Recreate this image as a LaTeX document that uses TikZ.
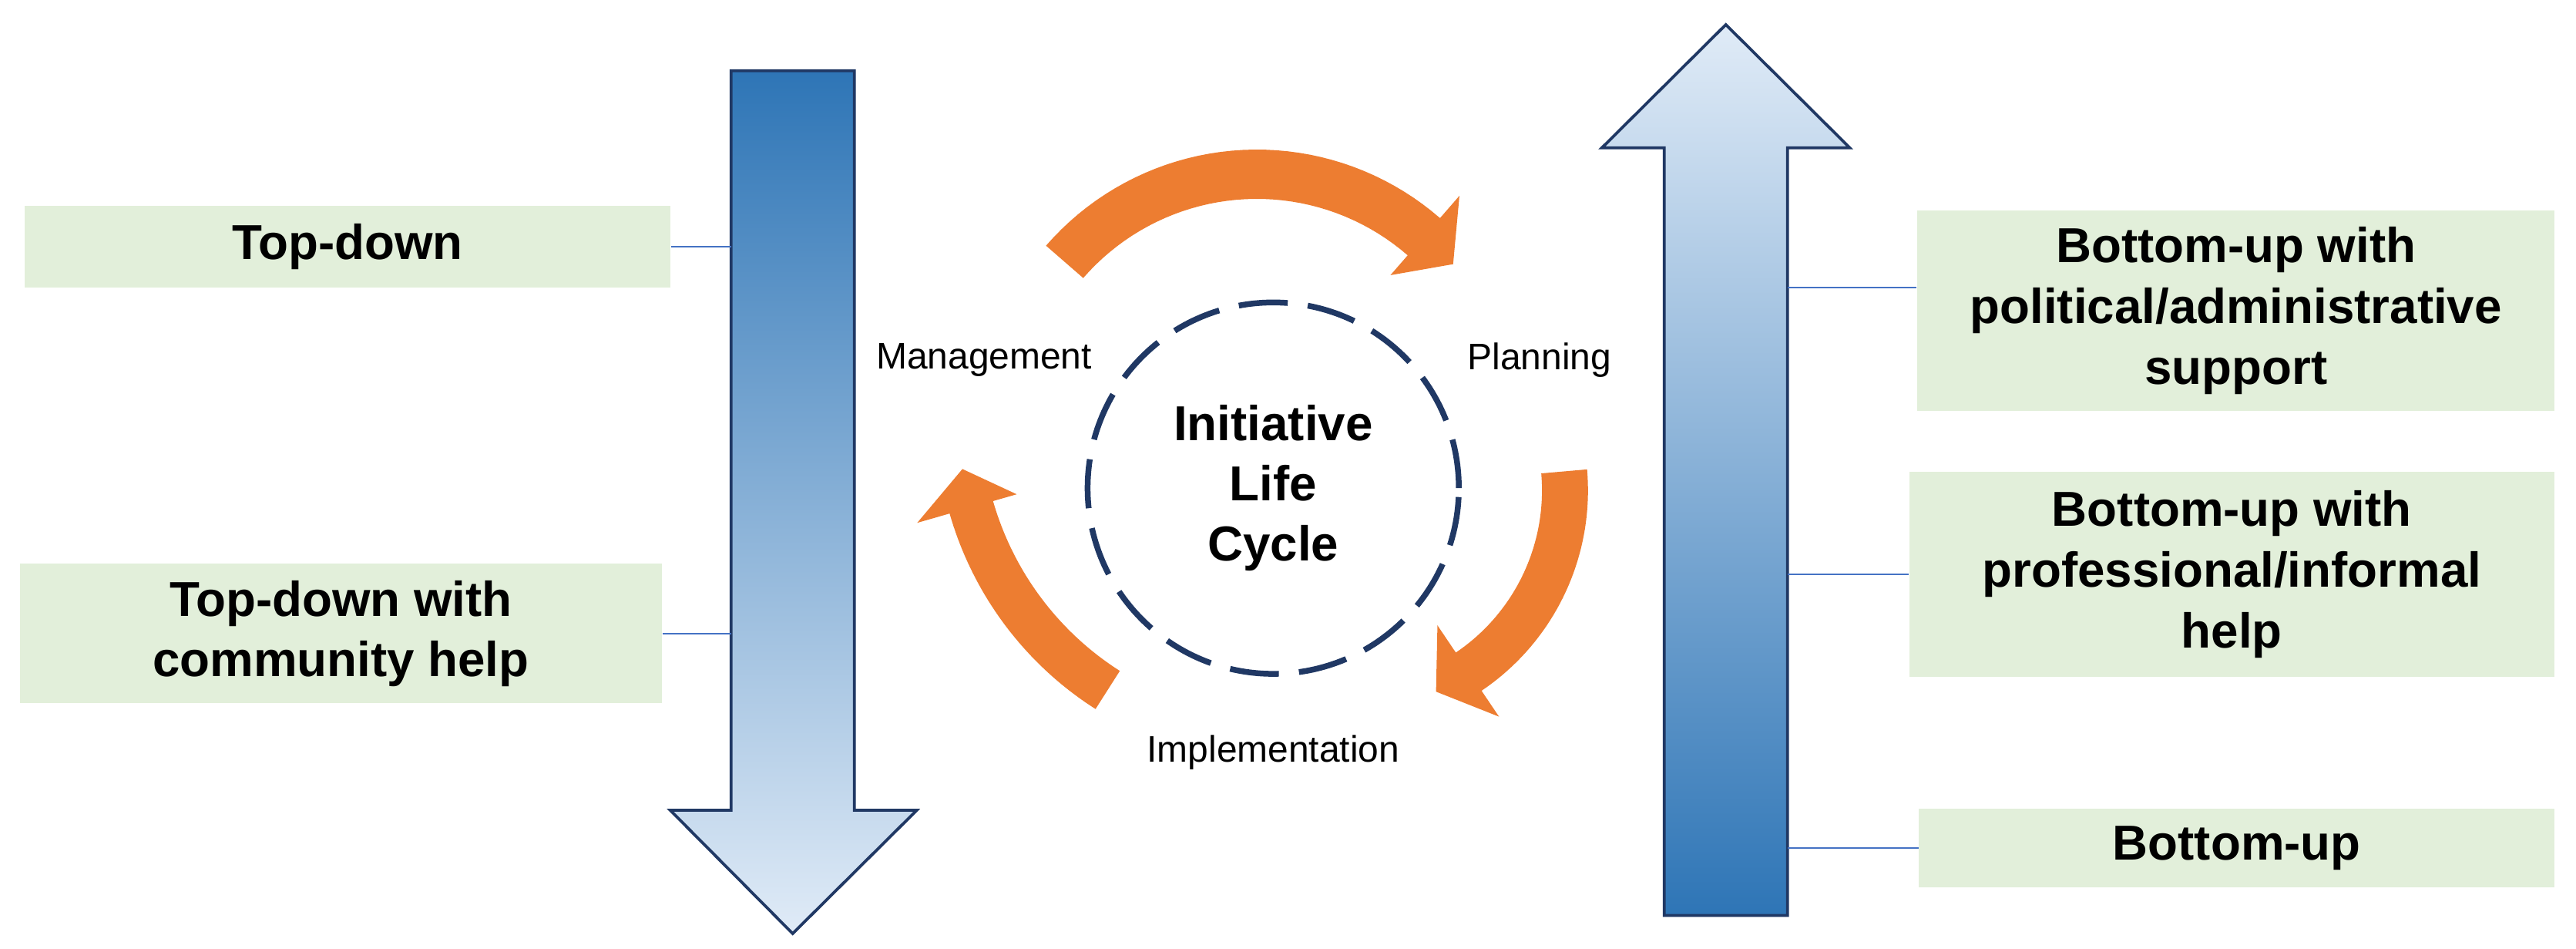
\documentclass[tikz,border=0pt]{standalone}
\usepackage{fontspec}
\setmainfont{Liberation Sans}
\usetikzlibrary{positioning}

\definecolor{boxgreen}{RGB}{226,239,218}
\definecolor{cycorange}{RGB}{237,125,49}
\definecolor{darkblue}{RGB}{46,117,182}
\definecolor{paleblue}{RGB}{224,235,247}
\definecolor{navy}{RGB}{32,56,100}
\definecolor{linkblue}{RGB}{68,114,196}

\tikzset{
  level/.style={fill=boxgreen,align=center,inner sep=0pt,font=\bfseries\fontsize{17}{21}\selectfont},
  phase/.style={inner sep=0pt,font=\fontsize{12.8}{15}\selectfont},
  link/.style={linkblue,line width=0.6pt},
  bigarrow/.style={navy,line width=1pt},
}

\begin{document}
\begin{tikzpicture}[x=0.02cm,y=-0.02cm]
\useasboundingbox (0,0) rectangle (1568,577);
% the two big arrows
\draw[bigarrow,top color=darkblue,bottom color=paleblue] (445,43)--(520,43)--(520,493)--(558,493)--(482.5,568)--(408,493)--(445,493)--cycle;
\draw[bigarrow,top color=paleblue,bottom color=darkblue] (1013,557)--(1088,557)--(1088,90)--(1126,90)--(1050.5,15)--(975,90)--(1013,90)--cycle;
\coordinate (lshaft) at (445,0);
\coordinate (rshaft) at (1088,0);
\coordinate (rtop) at (1088,175);

% levels
\node[level,minimum width=7.86cm,minimum height=1cm] (td) at (211.5,150) {Top-down};
\node[level,minimum width=7.82cm,minimum height=1.7cm] (tdc) at (207.5,385.5) {Top-down with\\community help};
\node[level,minimum width=7.76cm,minimum height=2.44cm] (bup) at (1361,189) {Bottom-up with\\political/administrative\\support};
\node[level,minimum width=7.86cm,minimum height=2.5cm] (bupi) at (1358.5,349.5) {Bottom-up with\\professional/informal\\help};
\node[level,minimum width=7.74cm,minimum height=0.96cm] (bu) at (1361.5,516) {Bottom-up};

\draw[link] (td.east) -- (td.east -| lshaft);
\draw[link] (tdc.east) -- (tdc.east -| lshaft);
\draw[link] (rtop) -- (rtop -| bup.west);
\draw[link] (bupi.west) -- (bupi.west -| rshaft);
\draw[link] (bu.west) -- (bu.west -| rshaft);

% life cycle
\node[circle,draw=navy,line width=2pt,dash pattern=on 17pt off 7pt,minimum size=4.52cm,inner sep=0pt,align=center,
  font=\bfseries\fontsize{17}{20.8}\selectfont] (ilc) at (775,297) {Initiative\\Life\\Cycle};
\node[phase] (mgmt) at (599,219) {Management};
\node[phase] (plan) at (937,219) {Planning};
\node[phase] (impl) at (775,458) {Implementation};

\fill[cycorange,shift={(765,261)}] plot[domain=221:311,samples=40] (\x:170) -- (311:188) -- (320:156) -- (311:124) -- plot[domain=311:221,samples=40] (\x:140) -- cycle;
\fill[cycorange,shift={(819.6,298.4)}] plot[domain=-5:56,samples=40] (\x:147) -- (56:166) -- (66:134) -- (56:99) -- plot[domain=56:-5,samples=40] (\x:119) -- cycle;
\fill[cycorange,shift={(779.4,254.7)}] plot[domain=122.5:164,samples=40] (\x:209.5) -- (164:230) -- (171:196) -- (164:167) -- plot[domain=164:122.5,samples=40] (\x:182) -- cycle;
\end{tikzpicture}
\end{document}
